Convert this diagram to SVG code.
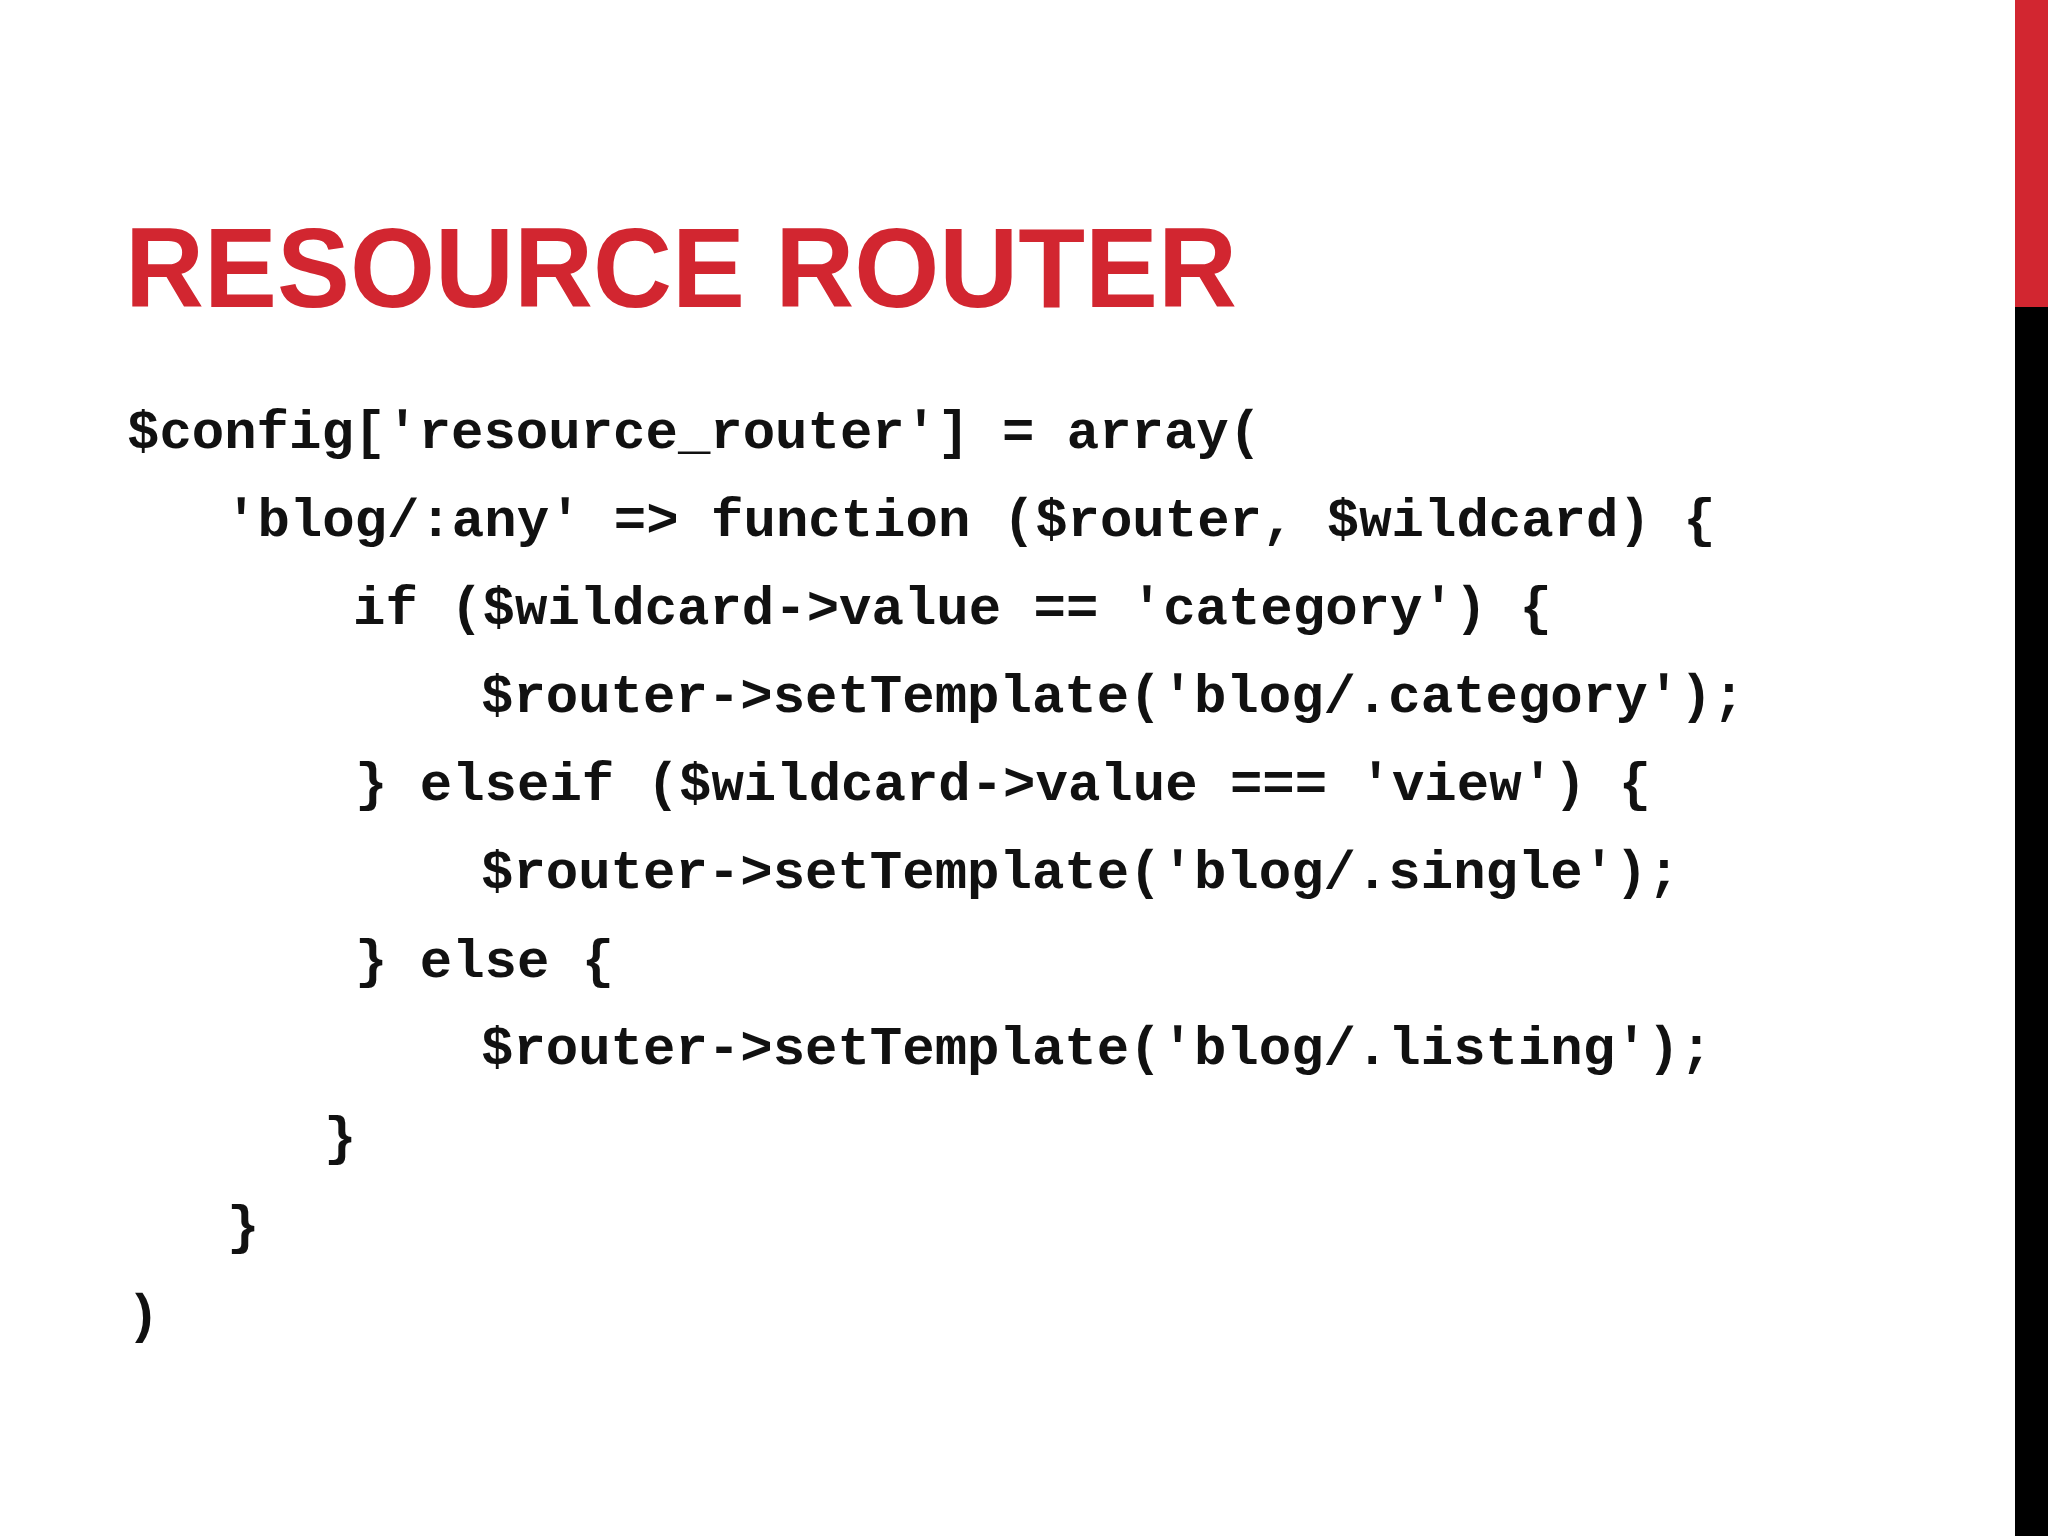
<svg xmlns="http://www.w3.org/2000/svg" width="2048" height="1536" viewBox="0 0 2048 1536">
<style>
.t{font-family:"Liberation Sans",Arial,sans-serif;font-weight:bold;font-size:113px;fill:#d22630}
.c{font-family:"Liberation Mono","Courier New",monospace;font-weight:bold;font-size:54px;fill:#111}
</style>
<rect width="2048" height="1536" fill="#fff"/>
<rect x="2015" y="0" width="33" height="307" fill="#d22630"/>
<rect x="2015" y="307" width="33" height="1229" fill="#000"/>
<text class="t" x="125" y="307" textLength="1112" lengthAdjust="spacingAndGlyphs">RESOURCE ROUTER</text>
<g class="c">
<text x="127" y="448">$config['resource_router'] = array(</text>
<text x="225" y="536">'blog/:any' =&gt; function ($router, $wildcard) {</text>
<text x="353" y="624">if ($wildcard-&gt;value == 'category') {</text>
<text x="481" y="712">$router-&gt;setTemplate('blog/.category');</text>
<text x="355" y="800">} elseif ($wildcard-&gt;value === 'view') {</text>
<text x="481" y="888">$router-&gt;setTemplate('blog/.single');</text>
<text x="355" y="977">} else {</text>
<text x="481" y="1064">$router-&gt;setTemplate('blog/.listing');</text>
<text x="324" y="1154">}</text>
<text x="227" y="1243">}</text>
<text x="127" y="1332">)</text>
</g>
</svg>
